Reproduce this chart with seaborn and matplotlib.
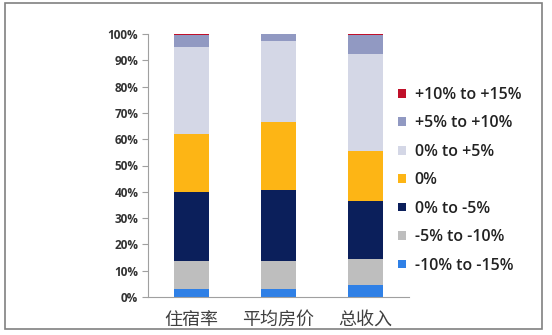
import matplotlib
matplotlib.use("Agg")
import matplotlib.pyplot as plt
import seaborn as sns
import pandas as pd
import numpy as np
from matplotlib.patches import Patch, Rectangle

categories = ["住宿率", "平均房价", "总收入"]
series_names = ["-10% to -15%", "-5% to -10%", "0% to -5%", "0%", "0% to +5%", "+5% to +10%", "+10% to +15%"]
v_m10_m15 = [3.0, 3.0, 4.5]
v_m5_m10 = [10.5, 10.5, 10.0]
v_0_m5 = [26.5, 27.0, 22.0]
v_0 = [22.0, 26.0, 19.0]
v_0_p5 = [33.0, 31.0, 37.0]
v_p5_p10 = [4.5, 2.5, 7.0]
v_p10_p15 = [0.5, 0.0, 0.5]
yticks = [0, 10, 20, 30, 40, 50, 60, 70, 80, 90, 100]

colors = ["#2F80E6", "#BEBEBE", "#0B1F5B", "#FDB515", "#D4D7E6", "#9199C2", "#C0102A"]
series_vals = [v_m10_m15, v_m5_m10, v_0_m5, v_0, v_0_p5, v_p5_p10, v_p10_p15]

sns.set_style("white")
plt.rcParams['font.family'] = ['Noto Sans CJK SC', 'DejaVu Sans']

fig = plt.figure(figsize=(5.52, 3.35), dpi=100)
ax = fig.add_axes([148/552, 1-297/335, (409-148)/552, (297-34)/335])

cum = np.cumsum(np.array(series_vals), axis=0)
# draw from top down so each lower cumulative covers the previous
for i in range(len(series_names)-1, -1, -1):
    df = pd.DataFrame({"cat": categories, "val": cum[i]})
    sns.barplot(data=df, x="cat", y="val", color=colors[i], width=0.41,
                saturation=1, ax=ax, linewidth=0, order=categories)

ax.set_xlim(-0.5, 2.5)
ax.set_ylim(0, 100)
ax.set_xlabel("")
ax.set_ylabel("")
ax.set_yticks(yticks)
ax.set_yticklabels([f"{t}%" for t in yticks], fontsize=8.5, fontweight='bold',
                   color='#333333', family=['Open Sans', 'DejaVu Sans'])
ax.set_xticks([0, 1, 2])
ax.set_xticklabels(categories, fontsize=13, color='#404040')
ax.tick_params(axis='x', which='major', length=0, pad=10)
ax.set_xticks([-0.5, 0.5, 1.5, 2.5], minor=True)
ax.tick_params(axis='x', which='minor', length=4, color='#A0A0A0', width=0.8)
ax.tick_params(axis='y', length=4, color='#A0A0A0', width=0.8, pad=3, left=True)
for s in ['top', 'right']:
    ax.spines[s].set_visible(False)
for s in ['left', 'bottom']:
    ax.spines[s].set_color('#A0A0A0')
    ax.spines[s].set_linewidth(0.8)

handles = [Patch(facecolor=colors[i], edgecolor='none') for i in range(len(series_names)-1, -1, -1)]
labels = [series_names[i] for i in range(len(series_names)-1, -1, -1)]
fig.legend(handles, labels, loc='upper left', bbox_to_anchor=(390/552, 1-79/335),
           frameon=False, borderpad=0, labelspacing=0.78, handlelength=0.5,
           handleheight=0.45, handletextpad=0.55,
           prop={'family': ['Open Sans', 'DejaVu Sans'], 'size': 11.5, 'weight': 'semibold'},
           labelcolor='#222222')

fig.patches.append(Rectangle((5/552, 1-329/335), (542-5)/552, (329-3)/335,
                             transform=fig.transFigure, fill=False,
                             edgecolor='#808080', linewidth=1.2))

fig.savefig("out.png", dpi=100)
